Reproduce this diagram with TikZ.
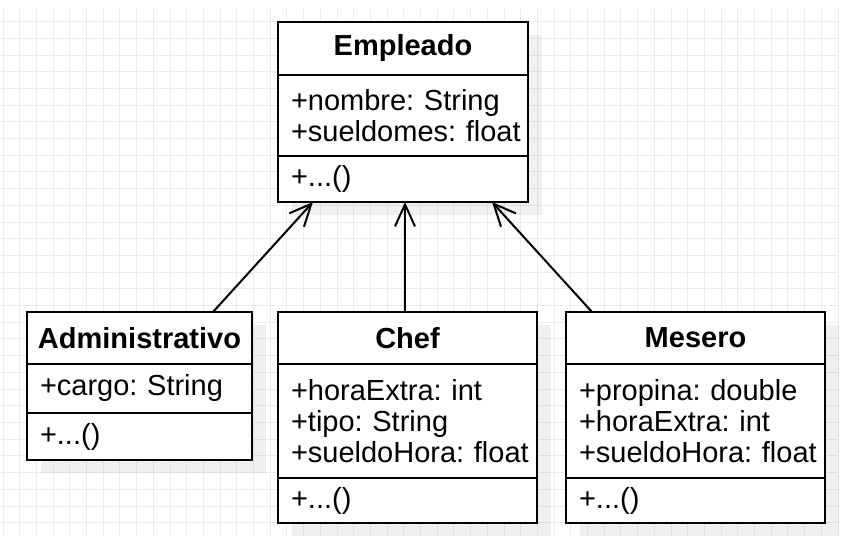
\documentclass[tikz,border=0pt]{standalone}
\usepackage{fontspec}
\setmainfont{Liberation Sans}
\usetikzlibrary{positioning,arrows.meta,shadows}

\tikzset{
  umlpart/.style={draw, line width=2pt, fill=white, outer sep=0pt, inner ysep=0pt,
    drop shadow={shadow xshift=14pt, shadow yshift=-13pt, fill=black, opacity=0.06}},
  umlhead/.style={umlpart, inner xsep=0pt, font=\fontsize{29}{31}\selectfont\bfseries},
  umlbody/.style={umlpart, inner xsep=4pt, align=left, font=\fontsize{29}{31}\selectfont,
    execute at begin node={\frenchspacing\leftskip=9pt}},
  herencia/.style={line width=2pt, -{Straight Barb[length=22pt,width=20pt]}},
  gridline/.style={draw=gray!15, line width=1pt}
}

\begin{document}
\begin{tikzpicture}[x=1pt,y=-1pt]
	\useasboundingbox (0,0) rectangle (852,545);
	\fill[white] (0,0) rectangle (852,545);
	\draw[gridline, step=16.7pt, shift={(3,5)}] (-3,3) grid (835,530);

	% Empleado
	\node[umlhead, minimum width=250pt, minimum height=53pt] (emphead) at (403,48.5) {Empleado};
	\node[umlbody, below=0pt of emphead, text width=242pt, minimum height=81pt] (empattr) {+nombre: String\\+sueldomes: float};
	\node[umlbody, below=0pt of empattr, text width=242pt, minimum height=46pt] (empmeth) {+...()};

	% Administrativo
	\node[umlhead, minimum width=225pt, minimum height=52pt] (admhead) at (139.5,338) {Administrativo};
	\node[umlbody, below=0pt of admhead, text width=217pt, minimum height=49pt] (admattr) {+cargo: String};
	\node[umlbody, below=0pt of admattr, text width=217pt, minimum height=47pt] (admmeth) {+...()};

	% Chef
	\node[umlhead, minimum width=259pt, minimum height=52pt] (chefhead) at (407.5,338) {Chef};
	\node[umlbody, below=0pt of chefhead, text width=251pt, minimum height=114pt] (chefattr) {+horaExtra: int\\+tipo: String\\+sueldoHora: float};
	\node[umlbody, below=0pt of chefattr, text width=251pt, minimum height=45pt] (chefmeth) {+...()};

	% Mesero
	\node[umlhead, minimum width=259pt, minimum height=52pt] (meshead) at (695.5,338) {Mesero};
	\node[umlbody, below=0pt of meshead, text width=251pt, minimum height=114pt] (mesattr) {+propina: double\\+horaExtra: int\\+sueldoHora: float};
	\node[umlbody, below=0pt of mesattr, text width=251pt, minimum height=45pt] (mesmeth) {+...()};

	\draw[herencia] ([xshift=73.5pt]admhead.north) -- ([xshift=-90pt]empmeth.south);
	\draw[herencia] ([xshift=-2.5pt]chefhead.north) -- ([xshift=2pt]empmeth.south);
	\draw[herencia] ([xshift=-103.5pt]meshead.north) -- ([xshift=89pt]empmeth.south);
\end{tikzpicture}
\end{document}
